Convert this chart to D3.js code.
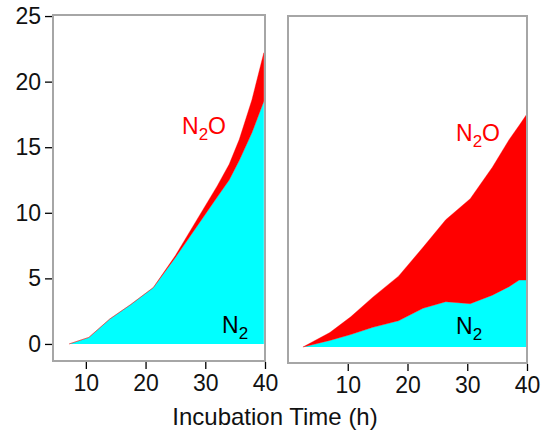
<!DOCTYPE html>
<html><head><meta charset="utf-8">
<script src="https://cdn.jsdelivr.net/npm/d3@7"></script>
<style>body{margin:0;background:#fff;}svg{display:block;}</style>
</head><body>
<script>
// Left panel data
const leftTime = [7.2, 10.5, 14, 17.5, 21.3, 25, 28.5, 32, 34, 35.7, 37.8, 39.8];
const leftN2   = [0, 0.5, 1.9, 3.0, 4.3, 6.6, 8.9, 11.2, 12.5, 14.0, 16.1, 18.5];
const leftN2O  = [0, 0, 0, 0, 0, 0.15, 0.5, 0.85, 1.2, 1.6, 2.5, 3.7];
// Right panel data
const rightTime = [2.5, 7, 10.5, 14.2, 18.5, 22.6, 26.4, 30.5, 34.2, 37, 38.7, 39.9];
const rightN2   = [0, 0.5, 0.95, 1.5, 2.0, 2.95, 3.45, 3.3, 3.95, 4.6, 5.1, 5.1];
const rightN2O  = [0, 0.6, 1.35, 2.3, 3.4, 4.65, 6.25, 8.0, 9.75, 11.2, 11.8, 12.6];
const xTicks = [10, 20, 30, 40];
const yTicks = [0, 5, 10, 15, 20, 25];
const xTitle = "Incubation Time (h)";

const W = 548, H = 433;
const FONT = "Liberation Sans, Arial, sans-serif";
const svg = d3.select("body").append("svg").attr("width", W).attr("height", H);
svg.append("rect").attr("width", W).attr("height", H).attr("fill", "#fff");

function panel(cfg) {
  const x = d3.scaleLinear().domain(cfg.xDomain).range([cfg.left, cfg.right]);
  const y = d3.scaleLinear().domain(cfg.yDomain).range([cfg.bottom, cfg.top]);
  const rows = cfg.time.map((t, i) => ({t: t, N2: cfg.n2[i], N2O: cfg.n2o[i]}));
  const series = d3.stack().keys(["N2", "N2O"])(rows);
  const area = d3.area().x(d => x(d.data.t)).y0(d => y(d[0])).y1(d => y(d[1]));
  const g = svg.append("g");
  g.append("path").datum(series[0]).attr("d", area).attr("fill", "#00ffff");
  g.append("path").datum(series[1]).attr("d", area).attr("fill", "#ff0000")
    .attr("stroke", "#ff0000").attr("stroke-width", 0.6).attr("stroke-opacity", 0.6);
  // frame
  g.append("rect").attr("x", cfg.left).attr("y", cfg.top)
    .attr("width", cfg.right - cfg.left).attr("height", cfg.bottom - cfg.top)
    .attr("fill", "none").attr("stroke", "#a6a6a6").attr("stroke-width", 2);
  // x axis
  const xa = g.append("g").attr("transform", `translate(0,${cfg.bottom + 1})`)
    .call(d3.axisBottom(x).tickValues(xTicks).tickSize(7).tickPadding(6));
  xa.select(".domain").remove();
  xa.selectAll("line").attr("stroke", "#000").attr("stroke-width", 1.3);
  xa.selectAll("text").attr("font-family", FONT).attr("font-size", 23).attr("fill", "#111");
  if (cfg.yAxis) {
    const ya = g.append("g").attr("transform", `translate(${cfg.left - 1},0)`)
      .call(d3.axisLeft(y).tickValues(yTicks).tickSize(7).tickPadding(4));
    ya.select(".domain").remove();
    ya.selectAll("line").attr("stroke", "#000").attr("stroke-width", 1.3);
    ya.selectAll("text").attr("font-family", FONT).attr("font-size", 23).attr("fill", "#111");
  }
  // labels
  function label(xp, yp, main, sub, tail, color) {
    const t = g.append("text").attr("x", xp).attr("y", yp)
      .attr("font-family", FONT).attr("font-size", 23).attr("fill", color);
    t.append("tspan").text(main);
    t.append("tspan").text(sub).attr("font-size", 17).attr("dy", 6);
    if (tail) t.append("tspan").text(tail).attr("dy", -6);
  }
  label(cfg.n2oLabel[0], cfg.n2oLabel[1], "N", "2", "O", "#ff0000");
  label(cfg.n2Label[0], cfg.n2Label[1], "N", "2", null, "#000");
}

panel({
  left: 53, right: 265, top: 15, bottom: 361,
  xDomain: [4.5, 40], yDomain: [-1.3, 25.08],
  time: leftTime, n2: leftN2, n2o: leftN2O, yAxis: true,
  n2oLabel: [182, 134], n2Label: [222, 333]
});
panel({
  left: 288, right: 527, top: 16, bottom: 363,
  xDomain: [0, 40], yDomain: [-1.22, 25.23],
  time: rightTime, n2: rightN2, n2o: rightN2O, yAxis: false,
  n2oLabel: [456, 141], n2Label: [456, 334]
});

svg.append("text").attr("x", 275).attr("y", 425).attr("text-anchor", "middle")
  .attr("font-family", FONT).attr("font-size", 24).attr("fill", "#111").text(xTitle);
</script>
</body></html>
